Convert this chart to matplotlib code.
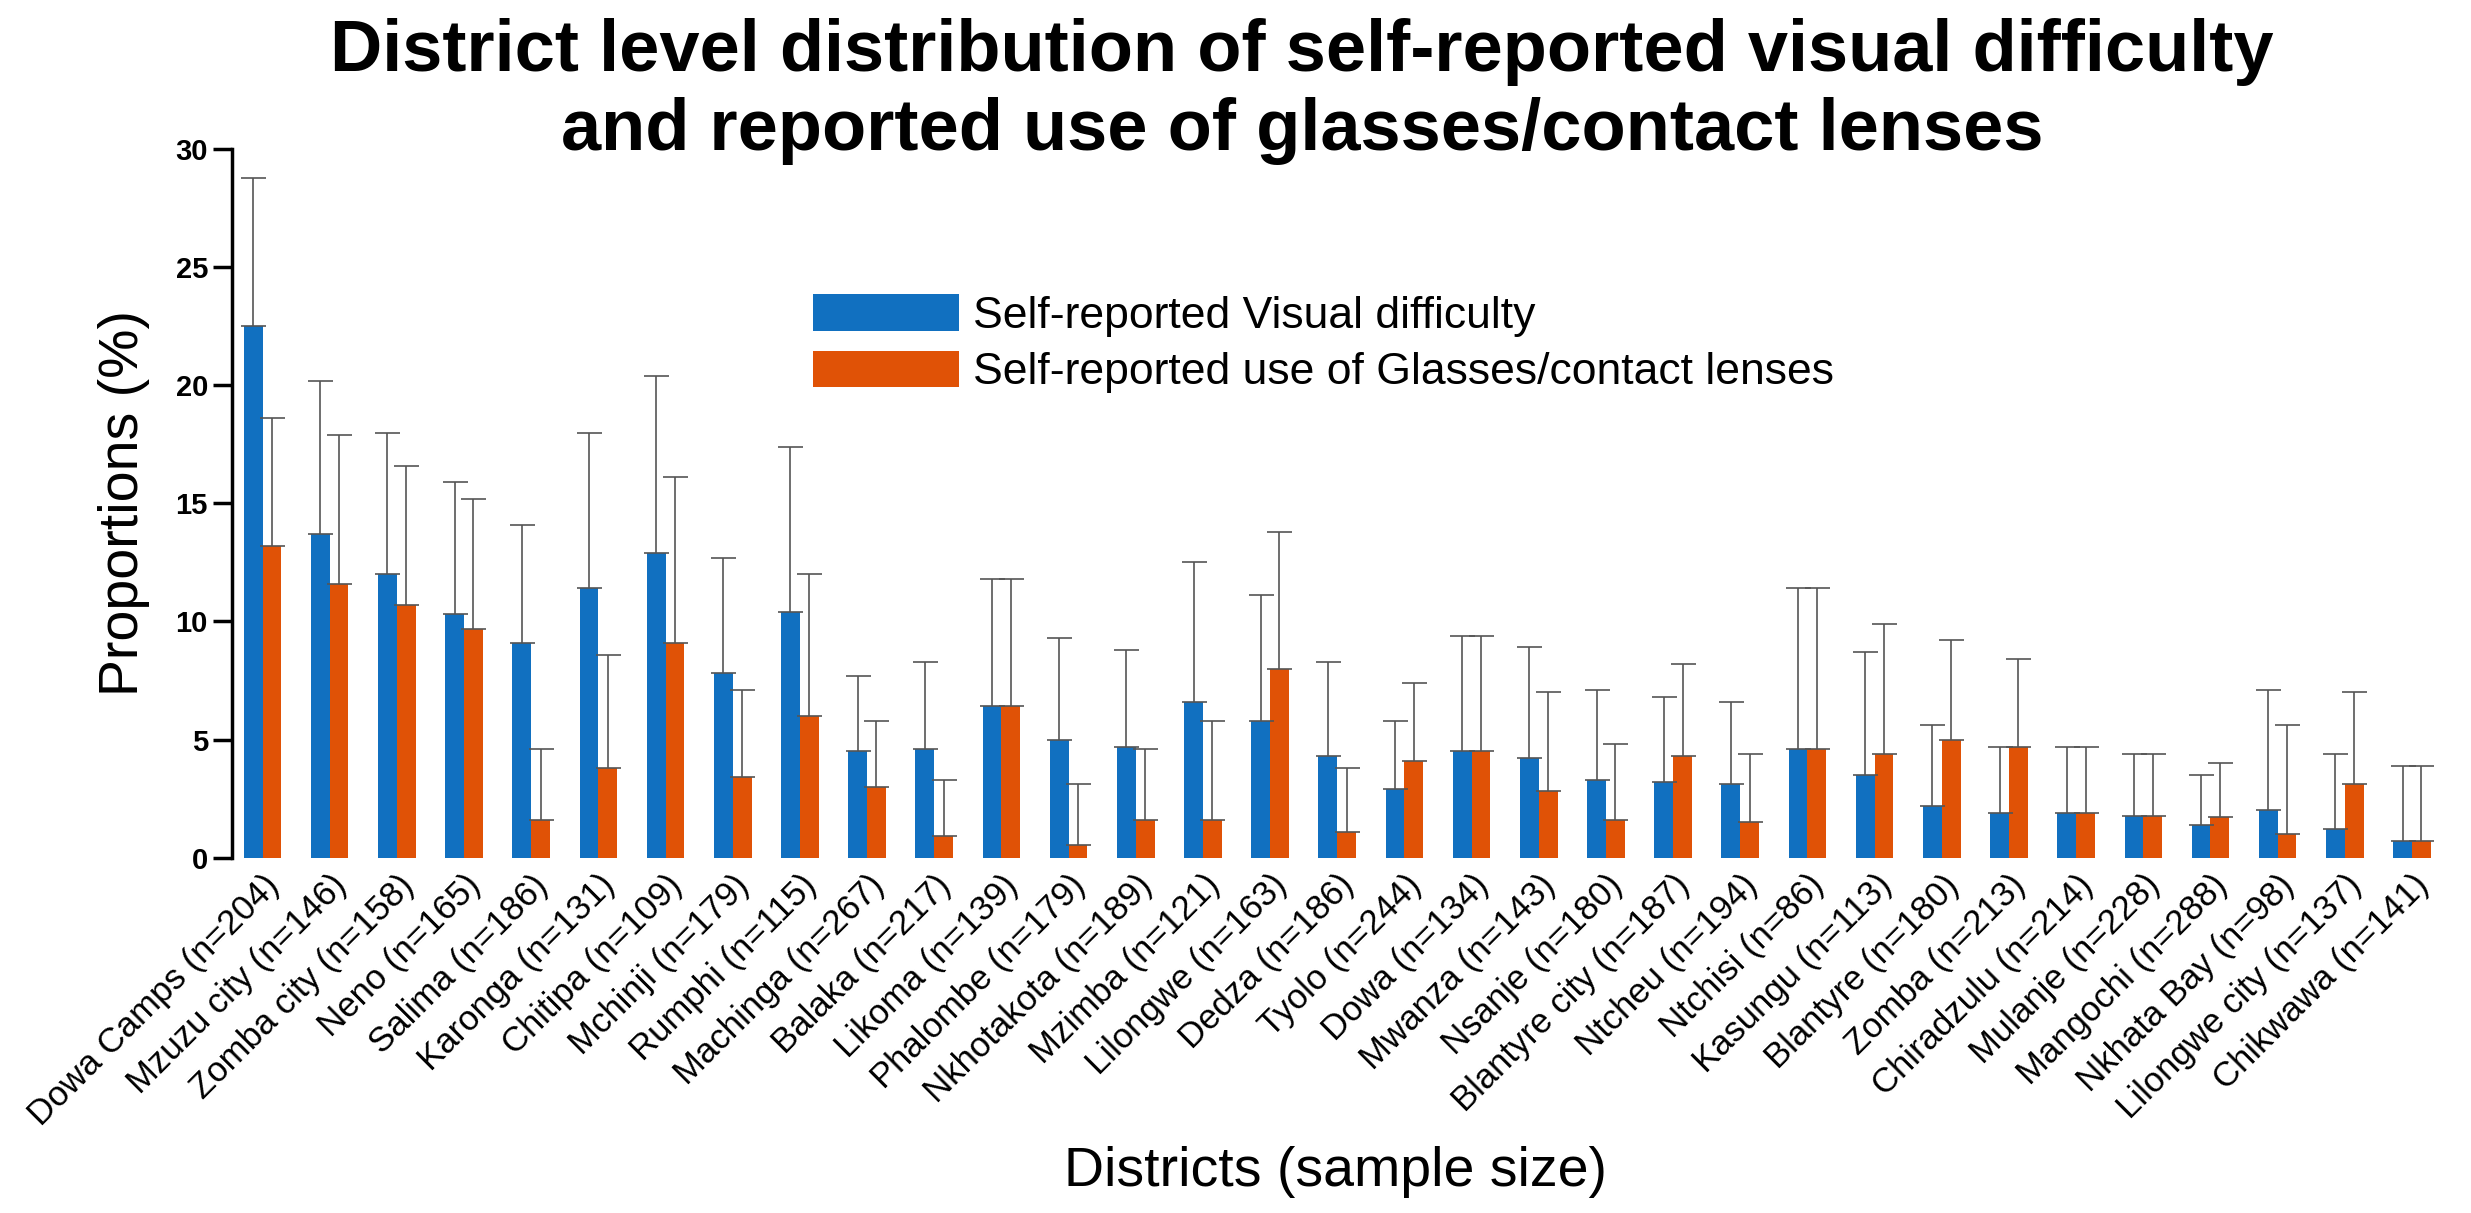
import matplotlib
matplotlib.use("Agg")
import matplotlib.pyplot as plt
import numpy as np

plt.rcParams['font.family'] = ['Liberation Sans', 'DejaVu Sans']

districts = ["Dowa Camps (n=204)", "Mzuzu city (n=146)", "Zomba city (n=158)", "Neno (n=165)",
             "Salima (n=186)", "Karonga (n=131)", "Chitipa (n=109)", "Mchinji (n=179)",
             "Rumphi (n=115)", "Machinga (n=267)", "Balaka (n=217)", "Likoma (n=139)",
             "Phalombe (n=179)", "Nkhotakota (n=189)", "Mzimba (n=121)", "Lilongwe (n=163)",
             "Dedza (n=186)", "Tyolo (n=244)", "Dowa (n=134)", "Mwanza (n=143)",
             "Nsanje (n=180)", "Blantyre city (n=187)", "Ntcheu (n=194)", "Ntchisi (n=86)",
             "Kasungu (n=113)", "Blantyre (n=180)", "Zomba (n=213)", "Chiradzulu (n=214)",
             "Mulanje (n=228)", "Mangochi (n=288)", "Nkhata Bay (n=98)", "Lilongwe city (n=137)",
             "Chikwawa (n=141)"]
visual = [22.5, 13.7, 12.0, 10.3, 9.1, 11.4, 12.9, 7.8, 10.4, 4.5, 4.6, 6.4, 5.0, 4.7, 6.6, 5.8,
          4.3, 2.9, 4.5, 4.2, 3.3, 3.2, 3.1, 4.6, 3.5, 2.2, 1.9, 1.9, 1.75, 1.4, 2.0, 1.2, 0.7]
visual_upper = [28.8, 20.2, 18.0, 15.9, 14.1, 18.0, 20.4, 12.7, 17.4, 7.7, 8.3, 11.8, 9.3, 8.8, 12.5, 11.1,
                8.3, 5.8, 9.4, 8.9, 7.1, 6.8, 6.6, 11.4, 8.7, 5.6, 4.7, 4.7, 4.4, 3.5, 7.1, 4.4, 3.9]
glasses = [13.2, 11.6, 10.7, 9.7, 1.6, 3.8, 9.1, 3.4, 6.0, 3.0, 0.9, 6.4, 0.55, 1.6, 1.6, 8.0,
           1.1, 4.1, 4.5, 2.8, 1.6, 4.3, 1.5, 4.6, 4.4, 5.0, 4.7, 1.9, 1.75, 1.7, 1.0, 3.1, 0.7]
glasses_upper = [18.6, 17.9, 16.6, 15.2, 4.6, 8.6, 16.1, 7.1, 12.0, 5.8, 3.3, 11.8, 3.1, 4.6, 5.8, 13.8,
                 3.8, 7.4, 9.4, 7.0, 4.8, 8.2, 4.4, 11.4, 9.9, 9.2, 8.4, 4.7, 4.4, 4.0, 5.6, 7.0, 3.9]

blue = "#1170c0"
orange = "#e05206"

fig = plt.figure(figsize=(24.71, 12.13), dpi=100)
ax = fig.add_axes([0.094, 0.293, 0.893, 0.584])
x = np.arange(len(districts))
w = 0.28
v = np.array(visual); g = np.array(glasses)
ax.bar(x - w/2, v, w, color=blue, label="Self-reported Visual difficulty",
       yerr=[np.zeros_like(v), np.array(visual_upper) - v],
       error_kw=dict(ecolor="#555555", elinewidth=1.2, capsize=9, capthick=1.2))
ax.bar(x + w/2, g, w, color=orange, label="Self-reported use of Glasses/contact lenses",
       yerr=[np.zeros_like(g), np.array(glasses_upper) - g],
       error_kw=dict(ecolor="#555555", elinewidth=1.2, capsize=9, capthick=1.2))

ax.set_xlim(-0.45, len(districts) - 0.6)
ax.set_ylim(0, 30)
ax.set_yticks([0, 5, 10, 15, 20, 25, 30])
ax.tick_params(axis='y', direction='out', length=14, width=2.5, labelsize=21)
for t in ax.get_yticklabels():
    t.set_fontweight('bold')
ax.set_xticks(x)
ax.set_xticklabels(districts, rotation=45, ha='right', rotation_mode='anchor', fontsize=25)
ax.tick_params(axis='x', length=0, pad=8)
for s in ['top', 'right', 'bottom']:
    ax.spines[s].set_visible(False)
ax.spines['left'].set_linewidth(2.5)
ax.set_ylabel("Proportions (%)", fontsize=40, labelpad=18)
ax.set_xlabel("Districts (sample size)", fontsize=40, labelpad=10)

ax.legend(loc='upper left', bbox_to_anchor=(0.255, 0.82), frameon=False, fontsize=32,
          handlelength=3.3, handleheight=0.9, handletextpad=0.3, labelspacing=0.3,
          borderaxespad=0)

fig.text(0.527, 0.985, "District level distribution of self-reported visual difficulty\nand reported use of glasses/contact lenses",
         ha='center', va='top', fontsize=52, fontweight='bold', linespacing=1.2)

fig.savefig("out.png", dpi=100)
